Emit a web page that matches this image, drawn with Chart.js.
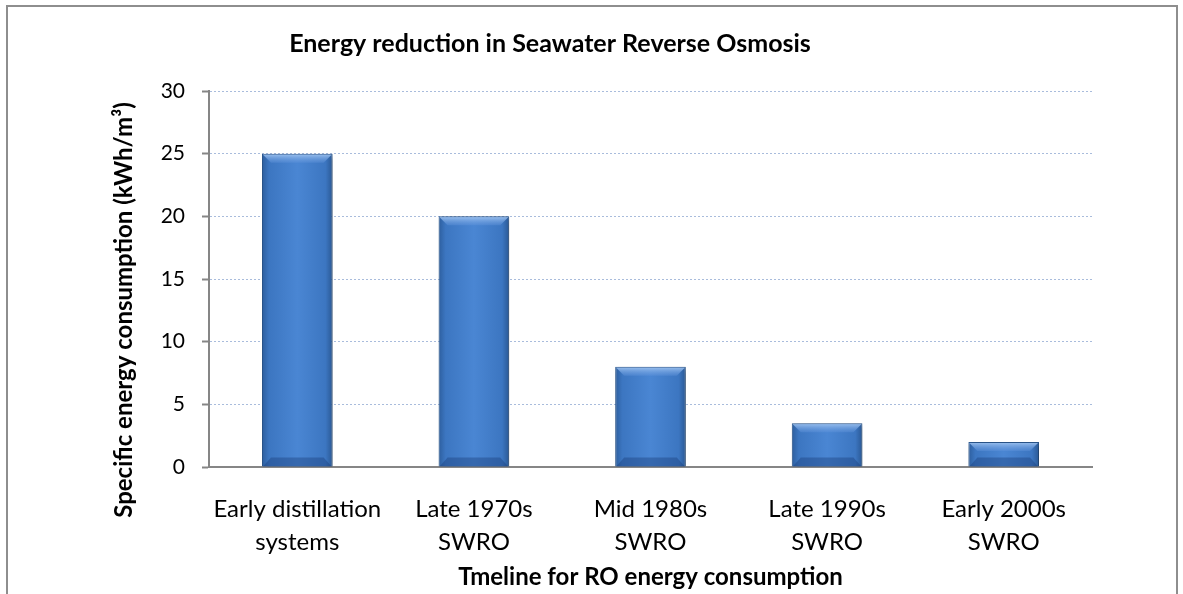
<!DOCTYPE html>
<html lang="en">
<head>
  <meta charset="UTF-8">
  <title>Energy reduction in Seawater Reverse Osmosis</title>
  <script src="https://cdn.jsdelivr.net/npm/chart.js"></script>
  <style>
    body { margin: 0; background: #fff; overflow: hidden; }
    .moldura {
      position: absolute; left: 6px; top: 5px;
      width: 1168px; height: 640px;
      border: 2px solid #8e8e8e;
    }
    .grafico { position: relative; width: 1168px; height: 587px; }
  </style>
</head>
<body>
  <div class="moldura">
    <div class="grafico">
      <canvas id="graficoEnergia"></canvas>
    </div>
  </div>

  <script>
    const categorias = [
      ['Early distillation', 'systems'],
      ['Late 1970s', 'SWRO'],
      ['Mid 1980s', 'SWRO'],
      ['Late 1990s', 'SWRO'],
      ['Early 2000s', 'SWRO']
    ];
    const consumo = [25, 20, 8, 3.5, 2];
    const ticksY = [0, 5, 10, 15, 20, 25, 30];

    const fonte = 'Lato, "Open Sans", sans-serif';
    const larguraBarra = 0.4;

    // gradiente horizontal de cada barra, calculado pela escala x
    function corBarra(ctx) {
      const escalaX = ctx.chart.scales.x;
      if (!escalaX || ctx.dataIndex === undefined) return '#4080cc';
      const meio = escalaX.getPixelForValue(ctx.dataIndex);
      const w = escalaX.width / categorias.length * larguraBarra;
      if (!isFinite(meio) || !isFinite(w) || w <= 0) return '#4080cc';
      const g = ctx.chart.ctx.createLinearGradient(meio - w / 2, 0, meio + w / 2, 0);
      g.addColorStop(0, '#2d5e9e');
      g.addColorStop(0.1, '#3c76c1');
      g.addColorStop(0.5, '#4a86d3');
      g.addColorStop(0.9, '#3c76c1');
      g.addColorStop(1, '#2a5894');
      return g;
    }

    // sombra e biseis das barras
    const efeitoBarras = {
      id: 'efeitoBarras',
      beforeDatasetsDraw(chart) {
        const c = chart.ctx;
        c.save();
        c.shadowColor = 'rgba(0,0,0,0.35)';
        c.shadowBlur = 6;
        c.shadowOffsetX = 2;
        c.shadowOffsetY = 2;
      },
      afterDatasetsDraw(chart) {
        const c = chart.ctx;
        c.restore();
        chart.getDatasetMeta(0).data.forEach(bar => {
          const x0 = bar.x - bar.width / 2, x1 = bar.x + bar.width / 2;
          const y0 = bar.y, y1 = bar.base;
          const b = Math.min(9, (y1 - y0) / 2);
          const gt = c.createLinearGradient(0, y0, 0, y0 + b);
          gt.addColorStop(0, 'rgba(165,200,242,0.95)');
          gt.addColorStop(1, 'rgba(100,150,220,0.35)');
          c.fillStyle = gt;
          c.beginPath();
          c.moveTo(x0 + 1, y0 + 1);
          c.lineTo(x1 - 1, y0 + 1);
          c.lineTo(x1 - b, y0 + b);
          c.lineTo(x0 + b, y0 + b);
          c.closePath();
          c.fill();
          c.fillStyle = 'rgba(25,60,120,0.4)';
          c.beginPath();
          c.moveTo(x0 + 1, y1);
          c.lineTo(x1 - 1, y1);
          c.lineTo(x1 - b, y1 - b);
          c.lineTo(x0 + b, y1 - b);
          c.closePath();
          c.fill();
        });
      }
    };

    // o titulo do eixo y fica um pouco abaixo do meio do eixo
    const desceTituloY = {
      id: 'desceTituloY',
      afterLayout(chart) {
        const escala = chart.scales.y;
        if (escala._tituloOriginal) return;
        escala._tituloOriginal = escala.drawTitle;
        escala.drawTitle = function () {
          const t = this.top, b = this.bottom;
          this.top += 31; this.bottom += 31;
          escala._tituloOriginal.call(this);
          this.top = t; this.bottom = b;
        };
      }
    };

    new Chart(document.getElementById('graficoEnergia'), {
      type: 'bar',
      data: {
        labels: categorias,
        datasets: [{
          label: 'Specific energy consumption',
          data: consumo,
          backgroundColor: corBarra,
          borderColor: '#2c5a92',
          borderWidth: 1,
          barPercentage: larguraBarra,
          categoryPercentage: 1
        }]
      },
      plugins: [efeitoBarras, desceTituloY],
      options: {
        responsive: true,
        maintainAspectRatio: false,
        animation: false,
        layout: { padding: { left: 0, right: 84, top: 0, bottom: 0 } },
        plugins: {
          legend: { display: false },
          tooltip: { enabled: false },
          title: {
            display: true,
            text: 'Energy reduction in Seawater Reverse Osmosis',
            color: '#000',
            font: { family: fonte, size: 25, weight: 'bold', lineHeight: 1.2 },
            padding: { top: 22, bottom: 32 }
          }
        },
        scales: {
          x: {
            afterFit(scale) { scale.height = 127; },
            grid: { display: false, drawTicks: false },
            border: { display: true, color: '#868686', width: 2 },
            ticks: {
              color: '#000',
              padding: 26,
              maxRotation: 0,
              autoSkip: false,
              font: { family: fonte, size: 24, lineHeight: 1.375 }
            },
            title: {
              display: true,
              text: 'Tmeline for RO energy consumption',
              color: '#000',
              font: { family: fonte, size: 24, weight: 'bold', lineHeight: 1.2 },
              padding: { top: 0, bottom: 2 }
            }
          },
          y: {
            min: 0,
            max: 30,
            afterFit(scale) { scale.width = 201; },
            afterBuildTicks(scale) { scale.ticks = ticksY.map(v => ({ value: v })); },
            grid: {
              color: '#a9bcdc',
              lineWidth: 1,
              tickLength: 7,
              tickColor: '#868686',
              tickWidth: 2
            },
            border: { display: true, color: '#868686', width: 2, dash: [2, 2] },
            ticks: {
              color: '#000',
              padding: 17,
              font: { family: fonte, size: 21 }
            },
            title: {
              display: true,
              text: 'Specific energy consumption (kWh/m³)',
              color: '#000',
              font: { family: fonte, size: 24, weight: 'bold', lineHeight: 1.2 },
              padding: { top: 102, bottom: 0 }
            }
          }
        }
      }
    });
  </script>
</body>
</html>
